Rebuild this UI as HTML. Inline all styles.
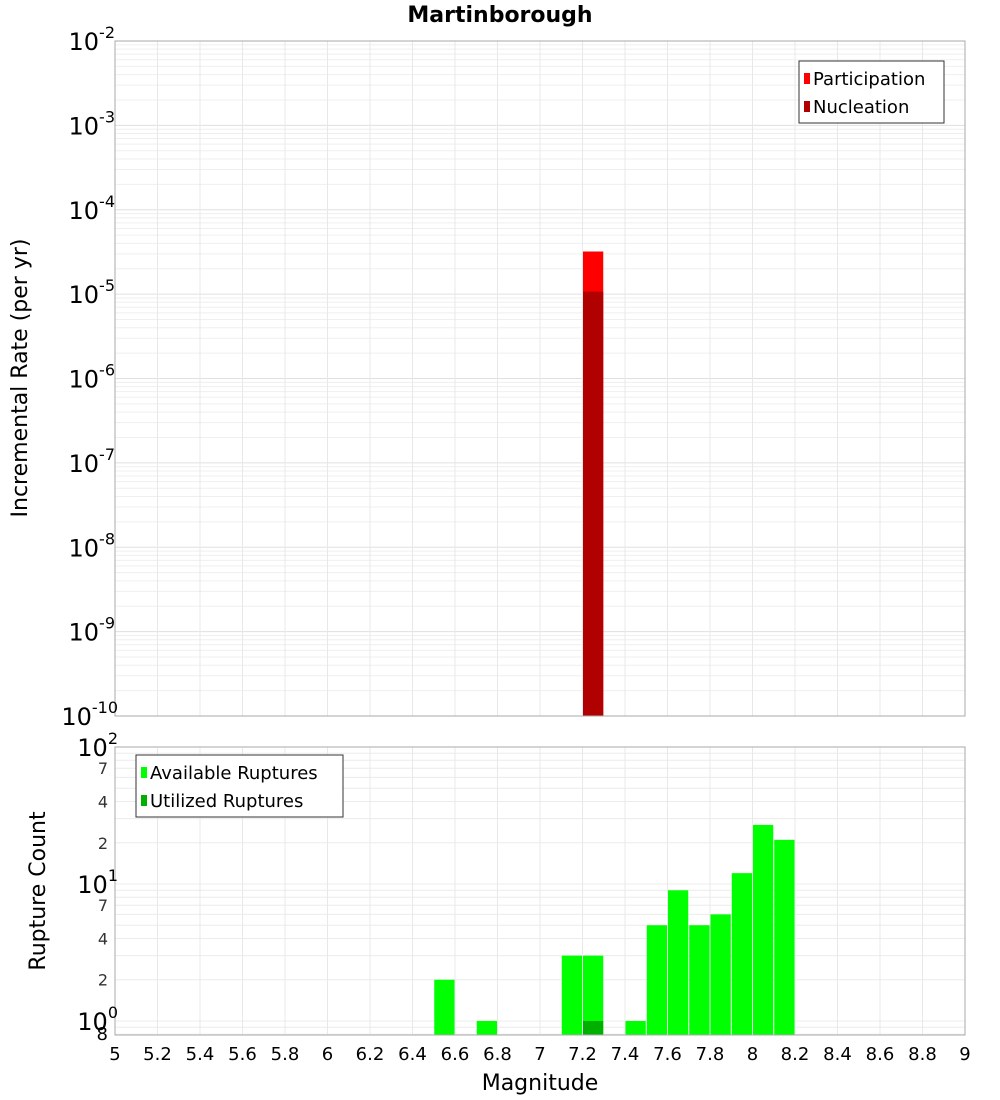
<!DOCTYPE html>
<html><head><meta charset="utf-8"><style>
body{margin:0;background:#fff;}
svg{display:block;font-family:"DejaVu Sans","Liberation Sans",sans-serif;}
</style></head><body>
<svg id="c" width="1000" height="1100" xmlns="http://www.w3.org/2000/svg">
<text x="500" y="22" text-anchor="middle" font-size="22" font-weight="bold">Martinborough</text>
<text transform="translate(27,378) rotate(-90)" text-anchor="middle" font-size="22">Incremental Rate (per yr)</text>
<text transform="translate(45,891) rotate(-90)" text-anchor="middle" font-size="22">Rupture Count</text>
<text x="540" y="1090" text-anchor="middle" font-size="22">Magnitude</text>
<g id="g"></g>
</svg>
<script>
const xTicks=[5,5.2,5.4,5.6,5.8,6,6.2,6.4,6.6,6.8,7,7.2,7.4,7.6,7.8,8,8.2,8.4,8.6,8.8,9];
const xTickLabels=["5","5.2","5.4","5.6","5.8","6","6.2","6.4","6.6","6.8","7","7.2","7.4","7.6","7.8","8","8.2","8.4","8.6","8.8","9"];
const rateMags=[7.25];
const participation=[3.2e-5];
const nucleation=[1.07e-5];
const countMags=[6.55,6.75,7.15,7.25,7.45,7.55,7.65,7.75,7.85,7.95,8.05,8.15];
const available=[2,1,3,3,1,5,9,5,6,12,27,21];
const utilizedMags=[7.25];
const utilized=[1];
const topDecades=[-2,-3,-4,-5,-6,-7,-8,-9,-10];
const botDecades=[2,1,0];
const botMinorLabels=[7,4,2];

const NS="http://www.w3.org/2000/svg";
const g=document.getElementById('g');
function el(t,a,p){const e=document.createElementNS(NS,t);for(const k in a)e.setAttribute(k,a[k]);(p||g).appendChild(e);return e;}
const X0=115,X1=965;
const xs=m=>X0+(m-5)/(9-5)*(X1-X0);
const T0=41,T1=716;
const yTop=v=>T0+(-2-Math.log10(v))/8*(T1-T0);
const B0=747,B1=1035,BMIN=0.79;
const yBot=v=>B0+(2-Math.log10(v))/(2-Math.log10(BMIN))*(B1-B0);

// grids
for(let d=-10;d<-2;d++)for(let k=1;k<10;k++){const y=yTop(k*Math.pow(10,d));
 const l=el('line',{x1:X0,x2:X1,y1:y,y2:y,stroke:k==1?'#e0e0e0':'#efefef','stroke-width':1});
 }
for(let d=-1;d<2;d++)for(let k=1;k<10;k++){const v=k*Math.pow(10,d);if(v<BMIN)continue;const y=yBot(v);
 const l=el('line',{x1:X0,x2:X1,y1:y,y2:y,stroke:'#ececec','stroke-width':1});
 }
xTicks.forEach(m=>{const x=xs(m);
 const a=el('line',{x1:x,x2:x,y1:T0,y2:T1,stroke:'#e8e8e8'});
 const b=el('line',{x1:x,x2:x,y1:B0,y2:B1,stroke:'#e8e8e8'});});

// top bars
const bw=xs(5.1)-xs(5)-1;
rateMags.forEach((m,i)=>{
 const x=xs(m-0.05)+0.5;
 let y=yTop(participation[i]);
 const r=el('rect',{x:x,y:y,width:bw,height:T1-y,fill:'#ff0000'});
 y=yTop(nucleation[i]);
 const n=el('rect',{x:x,y:y,width:bw,height:T1-y,fill:'#b00000'});});
// bottom bars
countMags.forEach((m,i)=>{const x=xs(m-0.05)+0.5,y=yBot(available[i]);
 const r=el('rect',{x:x,y:y,width:bw,height:B1-y,fill:'#00ff00'});});
utilizedMags.forEach((m,i)=>{const x=xs(m-0.05)+0.5,y=yBot(utilized[i]);
 const r=el('rect',{x:x,y:y,width:bw,height:B1-y,fill:'#00b000'});});

// frames
let f=el('rect',{x:X0,y:T0,width:X1-X0,height:T1-T0,fill:'none',stroke:'#aaa'});
f=el('rect',{x:X0,y:B0,width:X1-X0,height:B1-B0,fill:'none',stroke:'#aaa'});

// y labels top
function pow(x,y,e,name){const t=el('text',{x:x,y:y,'font-size':24,'text-anchor':'end'});
 t.textContent='10';const s=el('tspan',{dy:-12,'font-size':16},t);s.textContent=e;return t;}
topDecades.forEach(d=>{pow(d<=-10?118:115,yTop(Math.pow(10,d))+9,String(d),'top-y-tick-label');});
botDecades.forEach(d=>{pow(118,yBot(Math.pow(10,d))+9,String(d),'bottom-y-tick-label');
 if(d<2)botMinorLabels.forEach(k=>{const t=el('text',{x:108,y:yBot(k*Math.pow(10,d))+6,'font-size':16,'text-anchor':'end',fill:'#333'});t.textContent=k;
  });});
let t8=el('text',{x:108,y:1040,'font-size':18,'text-anchor':'end'});t8.textContent='8';
// x labels
xTicks.forEach((m,i)=>{const t=el('text',{x:xs(m),y:1060,'font-size':18,'text-anchor':'middle'});t.textContent=xTickLabels[i];
 });

// legends
function legend(x,y,w,items,name){const gg=el('g',{});
 el('rect',{x:x,y:y,width:w,height:items.length*28+6,fill:'#fff',stroke:'#333'},gg);
 items.forEach((it,i)=>{el('rect',{x:x+5,y:y+12+i*28,width:6,height:11,fill:it[1]},gg);
  const t=el('text',{x:x+14,y:y+24+i*28,'font-size':18},gg);t.textContent=it[0];});}
legend(799,61,145,[['Participation','#ff0000'],['Nucleation','#b00000']],'top-legend');
legend(136,755,207,[['Available Ruptures','#00ff00'],['Utilized Ruptures','#00b000']],'bottom-legend');
</script>
</body></html>
